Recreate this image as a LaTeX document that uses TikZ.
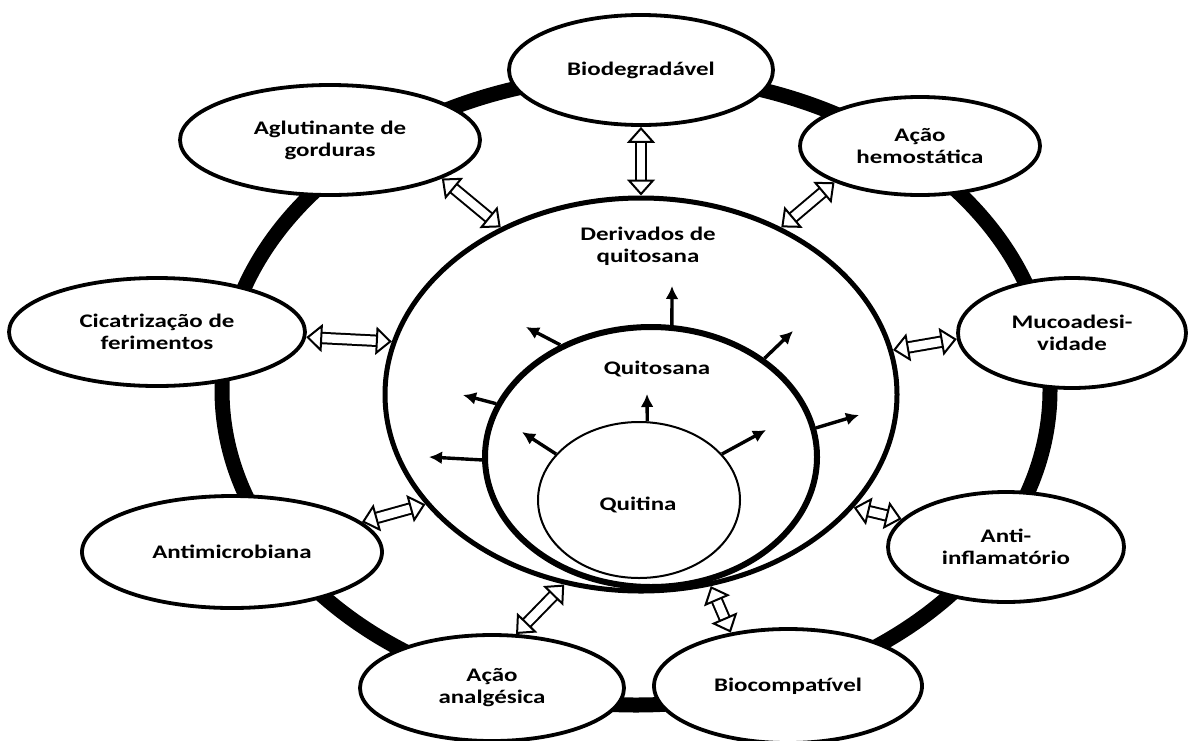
\documentclass[tikz,border=0pt]{standalone}
\usepackage{fontspec}
\setmainfont{Carlito}[FakeStretch=1.3]
\usetikzlibrary{shapes.geometric,arrows.meta}
\begin{document}
\begin{tikzpicture}[x=0.5pt,y=-0.5pt]
\tikzset{
  ringline/.style={line width=7.5pt},
  prop/.style={ellipse, draw, line width=1.9pt, fill=white, inner sep=0pt, align=center,
    font=\fontsize{9.6}{11}\selectfont\bfseries},
  lbl/.style={inner sep=0pt, align=center, font=\fontsize{9.6}{11}\selectfont\bfseries},
  layer/.style={ellipse, draw, inner sep=0pt},
  growarrow/.style={line width=1.7pt, -{Latex[length=6.5pt,width=6.5pt]}},
  link/.style={line width=1pt, double=white, double distance=4.2pt, {Triangle[open,fill=white,length=8pt,width=14pt,line width=1pt]}-{Triangle[open,fill=white,length=8pt,width=14pt,line width=1pt]}}
}
\useasboundingbox (0,0) rectangle (1188,740);
\fill[white] (0,0) rectangle (1188,740);
% outer ring
\coordinate (ringc) at (636,390);
\draw[ringline] (ringc) ellipse [x radius=207pt, y radius=157.5pt];
% layers
\node[layer, line width=2.5pt, minimum width=256pt, minimum height=196.5pt] (der) at (641,394.5) {};
\node[layer, line width=3pt, minimum width=166pt, minimum height=130pt] (qto) at (651,457) {};
\node[layer, line width=1pt, minimum width=101pt, minimum height=78pt] (qti) at (639,500) {};
\node[lbl] (tder) at (648,246) {Derivados de\\quitosana};
\node[lbl] (tqto) at (657,369) {Quitosana};
\node[lbl] (tqti) at (638,505) {Quitina};
% growth arrows
\coordinate (g1) at (647,394);
\coordinate (g2) at (522,432);
\coordinate (g3) at (766,430);
\coordinate (g4) at (672,286);
\coordinate (g5) at (526,327);
\coordinate (g6) at (793,331);
\coordinate (g7) at (463,395);
\coordinate (g8) at (429,457);
\coordinate (g9) at (859,415);
\draw[growarrow] (qti.84) -- (g1);
\draw[growarrow] (qti.151) -- (g2);
\draw[growarrow] (qti.29) -- (g3);
\draw[growarrow] (qto.81) -- (g4);
\draw[growarrow] (qto.129) -- (g5);
\draw[growarrow] (qto.41) -- (g6);
\draw[growarrow] (qto.161) -- (g7);
\draw[growarrow] (qto.181) -- (g8);
\draw[growarrow] (qto.10) -- (g9);
% property nodes
\node[prop, minimum width=132pt, minimum height=55pt] (bio) at (641,70) {Biodegradável};
\node[prop, minimum width=150pt, minimum height=55pt] (aglu) at (330,140) {Aglutinante de\\gorduras};
\node[prop, minimum width=120pt, minimum height=49pt] (hemo) at (920,146) {Ação\\hemostática};
\node[prop, minimum width=148pt, minimum height=54pt] (cica) at (157,332) {Cicatrização de\\ferimentos};
\node[prop, minimum width=114pt, minimum height=55pt] (muco) at (1072,333) {Mucoadesi-\\vidade};
\node[prop, minimum width=150pt, minimum height=56pt] (amic) at (232,552) {Antimicrobiana};
\node[prop, minimum width=118pt, minimum height=55pt] (infl) at (1006,547) {Anti-\\inflamatório};
\node[prop, minimum width=132pt, minimum height=53pt] (analg) at (492,688) {Ação\\analgésica};
\node[prop, minimum width=134pt, minimum height=57pt] (bioc) at (788,686) {Biocompatível};
% links
\draw[link] (bio.south) -- (der.north);
\draw[link] (aglu.-19) -- (der.130);
\draw[link] (hemo.203) -- (der.50);
\draw[link] (cica.-2) -- (der.168);
\draw[link] (muco.183) -- (der.10);
\draw[link] (amic.13) -- (der.207);
\draw[link] (analg.66) -- (der.248);
\draw[link] (bioc.137) -- (der.-70);
\draw[link] (infl.165) -- (der.-28);
\end{tikzpicture}
\end{document}
